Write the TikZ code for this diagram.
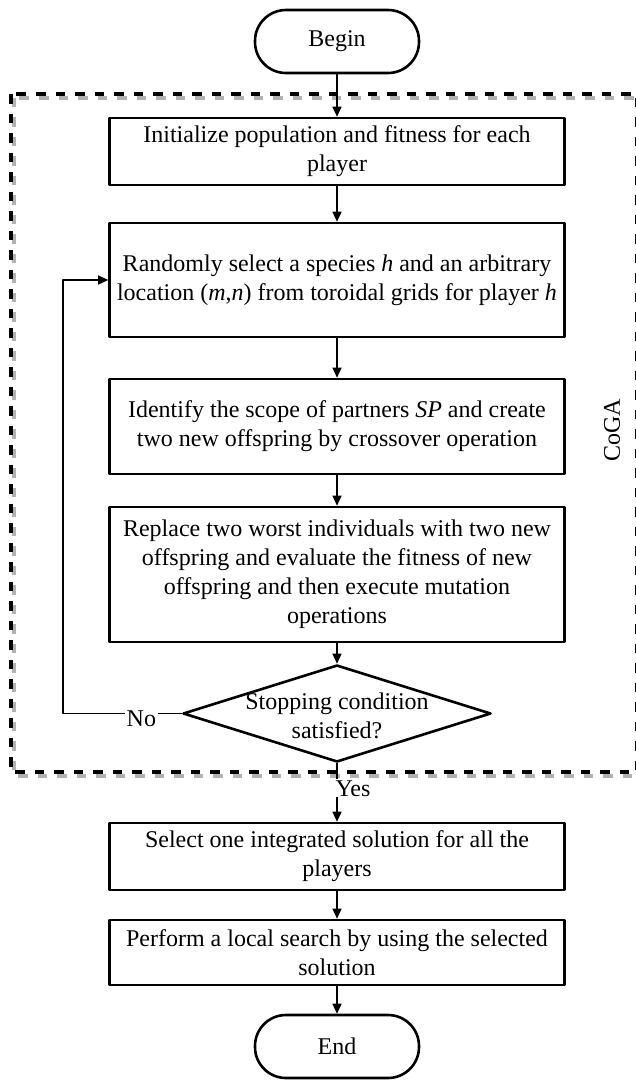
\documentclass[tikz,border=0pt]{standalone}
\usepackage{fontspec}
\setmainfont{Liberation Serif}
\usetikzlibrary{arrows.meta,shapes.geometric}

\begin{document}
\begin{tikzpicture}[x=1pt, y=-1pt, >={Triangle[length=10pt,width=9pt]}, line join=round,
	font=\fontsize{24}{29}\selectfont,
	procbox/.style={draw, line width=2.6pt, minimum width=455pt, align=center, inner sep=0pt},
	termbox/.style={draw, line width=2.6pt, rounded corners=31pt, minimum width=164pt, minimum height=63pt},
	flow/.style={->, line width=1.3pt},
	frame/.style={line width=4pt, dash pattern=on 9.5pt off 10pt}]
	\useasboundingbox (0,0) rectangle (636,1080);
	
	% 1. Khung nét đứt CoGA (có bóng xám)
	\draw[frame, black!30] (13.5,97.5) rectangle (640,775.5);
	\draw[frame] (10.5,94) rectangle (637,772);
	\node[rotate=90] (coga) at (612,430) {CoGA};
	
	% 2. Các khối của lưu đồ
	\node[termbox] (begin) at (337,41.5) {Begin};
	\node[procbox, minimum height=67pt] (init) at (337,151.5)
	{Initialize population and fitness for each\\player};
	\node[procbox, minimum height=114pt] (select) at (337,280)
	{Randomly select a species \textit{h} and an arbitrary\\location (\textit{m},\textit{n}) from toroidal grids for player \textit{h}};
	\node[procbox, minimum height=95pt] (scope) at (337,426.5)
	{Identify the scope of partners \textit{SP} and create\\two new offspring by crossover operation};
	\node[procbox, minimum height=135pt] (replace) at (337,574.5)
	{Replace two worst individuals with two new\\offspring and evaluate the fitness of new\\offspring and then execute mutation\\operations};
	\node[diamond, draw, line width=2.6pt, minimum width=308pt, minimum height=97pt, inner sep=0pt] (stop) at (337,713.5) {};
	\node[align=center] (stoptext) at (337,716) {Stopping condition\\satisfied?};
	\node[procbox, minimum height=67pt] (pick) at (337,856.5)
	{Select one integrated solution for all the\\players};
	\node[procbox, minimum height=65pt] (search) at (337,952.5)
	{Perform a local search by using the selected\\solution};
	\node[termbox] (end) at (337,1046.5) {End};
	
	% 3. Các mũi tên
	\draw[flow] (begin) -- (init);
	\draw[flow] (init) -- (select);
	\draw[flow] (select) -- (scope);
	\draw[flow] (scope) -- (replace);
	\draw[flow] (replace) -- (stop);
	\coordinate (loop) at (63,713.5);
	\draw[flow] (stop.west) -- node[pos=0.34, fill=white, inner sep=2pt, yshift=-5pt] (no) {No} (loop) |- (select.west);
	\draw[flow] (stop.south) -- node[pos=0.43, fill=white, inner sep=1pt, xshift=16pt] (yes) {Yes} (pick.north);
	\draw[flow] (pick) -- (search);
	\draw[flow] (search) -- (end);
	
\end{tikzpicture}
\end{document}
